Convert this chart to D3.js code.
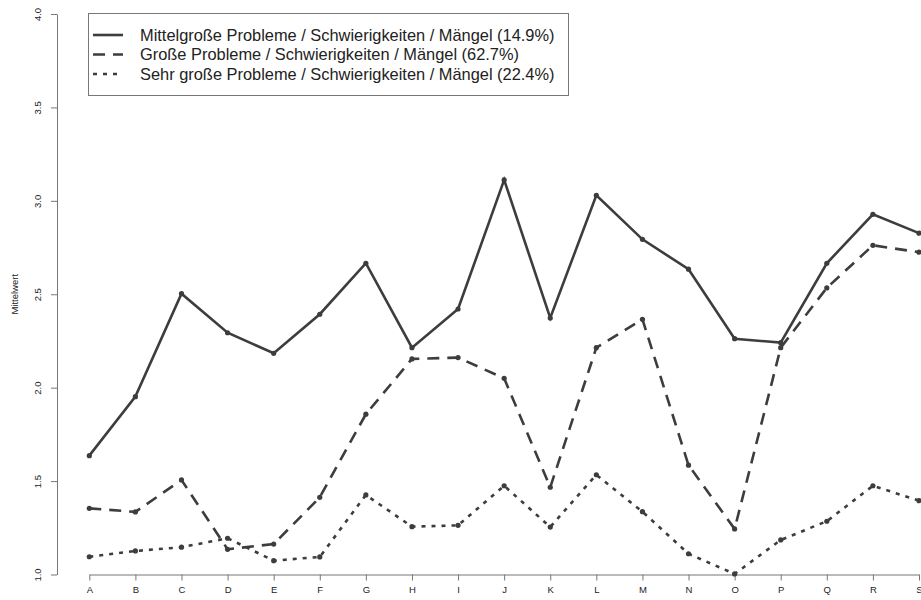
<!DOCTYPE html>
<html><head><meta charset="utf-8">
<script src="https://cdn.jsdelivr.net/npm/d3@7"></script>
<style>body{margin:0;background:#fff}svg{display:block;font-family:"Liberation Sans",Arial,sans-serif}</style>
</head><body><svg id="c" width="921" height="600"></svg>
<script>
const categories = ["A","B","C","D","E","F","G","H","I","J","K","L","M","N","O","P","Q","R","S"];
const mittel = [1.636,1.952,2.503,2.294,2.184,2.393,2.666,2.214,2.421,3.112,2.373,3.030,2.794,2.634,2.262,2.241,2.666,2.928,2.827];
const gross = [1.354,1.335,1.506,1.135,1.163,1.413,1.858,2.154,2.161,2.050,1.467,2.214,2.366,1.585,1.244,2.214,2.534,2.762,2.725];
const sehr = [1.095,1.126,1.146,1.194,1.074,1.094,1.426,1.256,1.263,1.475,1.254,1.534,1.336,1.111,1.003,1.185,1.285,1.475,1.395];
const seriesNames = ["Mittelgroße Probleme / Schwierigkeiten / Mängel (14.9%)","Große Probleme / Schwierigkeiten / Mängel (62.7%)","Sehr große Probleme / Schwierigkeiten / Mängel (22.4%)"];
const yTicks = [1.0,1.5,2.0,2.5,3.0,3.5,4.0];
const yTitle = "Mittelwert";

const svg = d3.select("#c");
const col = "#3d3d3d";
const x = d3.scalePoint().domain(categories).range([89.3, 919]);
const y = d3.scaleLinear().domain([1,4]).range([574.5,14]);
const dashes = [null, "12,8", "4,6"];
const series = [mittel, gross, sehr];

// y axis
const ya = svg.append("g").attr("transform","translate(57,0)")
  .call(d3.axisLeft(y).tickValues(yTicks).tickFormat(d3.format(".1f")).tickSize(6).tickSizeOuter(0));
ya.select(".domain").attr("stroke","#777");
ya.selectAll(".tick line").attr("stroke","#777");
ya.selectAll(".tick text").attr("transform","rotate(-90)").attr("x",0).attr("y",-19)
  .attr("dy","0.35em").attr("text-anchor","middle").attr("font-size",9.5).attr("fill","#222");

// x axis
const xa = svg.append("g").attr("transform","translate(0,574.5)")
  .call(d3.axisBottom(x).tickSize(6).tickSizeOuter(0));
xa.select(".domain").attr("stroke","#777");
xa.selectAll(".tick line").attr("stroke","#777");
xa.selectAll(".tick text").attr("y",15).attr("dy","0.35em").attr("font-size",9.5).attr("fill","#222");

svg.append("text").attr("transform","translate(15,"+((14+574.5)/2)+") rotate(-90)")
  .attr("text-anchor","middle").attr("dy","0.35em").attr("font-size",9.5).attr("fill","#222").text(yTitle);

const line = d3.line().x((d,i)=>x(categories[i])).y(d=>y(d));
series.forEach((s,k)=>{
  svg.append("path").datum(s).attr("d",line).attr("fill","none").attr("stroke",col)
    .attr("stroke-width",2.6).attr("stroke-dasharray",dashes[k]);
  svg.append("g").selectAll("circle").data(s).join("circle")
    .attr("cx",(d,i)=>x(categories[i])).attr("cy",d=>y(d)).attr("r",2.6).attr("fill",col);
});

// legend
const lg = svg.append("g");
lg.append("rect").attr("x",88.5).attr("y",13.5).attr("width",480).attr("height",82)
  .attr("fill","#fff").attr("stroke","#777");
seriesNames.forEach((n,k)=>{
  const yy = 35 + k*19.5;
  lg.append("line").attr("x1",93).attr("x2",123).attr("y1",yy).attr("y2",yy)
    .attr("stroke",col).attr("stroke-width",2.6).attr("stroke-dasharray",dashes[k]);
  lg.append("text").attr("x",140).attr("y",yy).attr("dy","0.35em").attr("font-size",16.4)
    .attr("fill","#222").text(n);
});
</script></body></html>
